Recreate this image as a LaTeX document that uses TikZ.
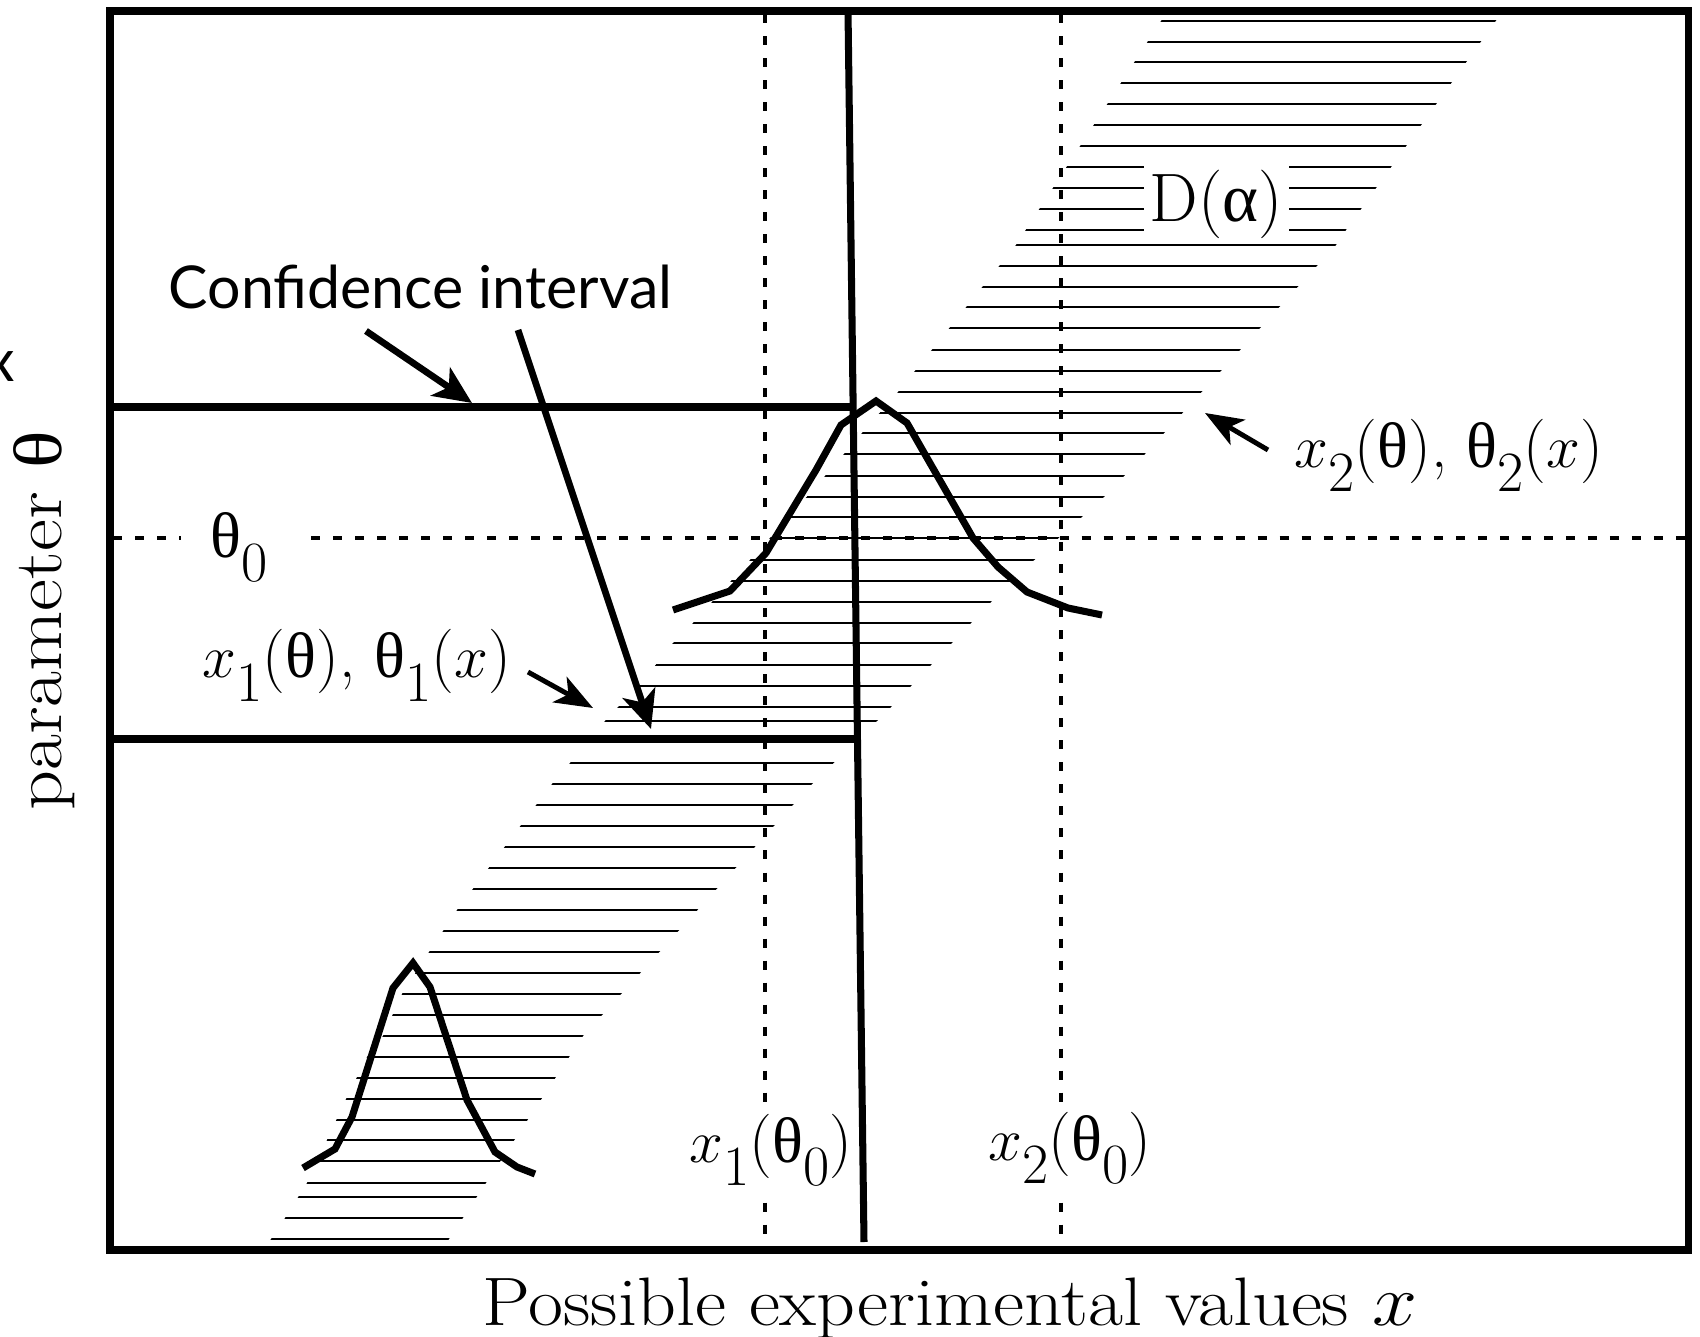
\documentclass[tikz,border=0pt]{standalone}
\usepackage{fontspec}
\usepackage{tikz}
\usetikzlibrary{arrows.meta}
\newfontfamily\grk{Liberation Serif}
\newfontfamily\gill{Lato}
\newcommand{\gtheta}{{\grk θ}}
\newcommand{\galpha}{{\grk α}}
\newcommand{\lowidx}[1]{\raisebox{-0.36em}{\fontsize{16.2}{16.2}\selectfont #1}}

\begin{document}
\begin{tikzpicture}[
    x=0.01cm, y=-0.01cm,
    heavy/.style={line width=2pt},
    guide/.style={line width=1.1pt, dash pattern=on 0.09cm off 0.13cm},
    hatch/.style={line width=0.7pt},
    bell/.style={line width=2pt, line join=miter},
    bigarrow/.style={line width=1.9pt, -{Stealth[length=0.38cm, width=0.34cm, inset=0.1cm]}},
    smallarrow/.style={line width=1.4pt, -{Stealth[length=0.38cm, width=0.29cm, inset=0.1cm]}},
    mathlabel/.style={font=\fontsize{18.3}{18.3}\selectfont, inner sep=0pt},
    boxlabel/.style={mathlabel, fill=white},
    axislabel/.style={font=\fontsize{19.5}{19.5}\selectfont, inner sep=0pt},
    sanslabel/.style={font=\gill\fontsize{16.8}{16.8}\selectfont, inner sep=0pt}
]

\useasboundingbox (0,0) rectangle (1700,1337);

% Schraffiertes Band D(alpha)
\begin{scope}
  \clip (1500,15) -- (1346,230) -- (1336,245) -- (1145,454) -- (1104,497) -- (1011,581)
    -- (891,707) -- (877,721) -- (812,784) -- (583,1036) -- (449,1239) -- (445,1245)
    -- (267,1245) -- (271,1239) -- (285,1218) -- (307,1183) -- (327,1140) -- (346,1099)
    -- (367,1057) -- (383,1036) -- (402,994) -- (429,952) -- (457,910) -- (552,784)
    -- (570,763) -- (605,721) -- (618,707) -- (639,686) -- (673,643) -- (693,623)
    -- (750,560) -- (789,517) -- (825,476) -- (862,433) -- (898,392) -- (1016,245)
    -- (1161,21) -- (1165,15) -- cycle;
  \foreach \hy in {21,42,62,83,104,125,146,167,188,209,230,245,266,287,307,328,350,
      371,392,413,433,454,476,497,517,538,560,581,602,623,643,665,686,707,721,763,784,
      805,826,847,868,889,910,931,952,973,994,1015,1036,1057,1078,1099,1120,1140,1161,
      1183,1197,1218,1239}
    \draw[hatch] (200,\hy) -- (1600,\hy);
\end{scope}

% Hilfslinien
\draw[guide] (765,14) -- (765,1247);
\draw[guide] (1061,14) -- (1061,1247);
\draw[guide] (113,538) -- (1685,538);

% Beschriftungen
\node[boxlabel, inner xsep=0.3cm, inner ysep=0.05cm, anchor=base west] (th0) at (180,558) {\gtheta\lowidx{0}};
\node[boxlabel, inner xsep=0.04cm, inner ysep=0.1cm, anchor=base west] (x1th0) at (685,1162) {$x$\lowidx{1}(\gtheta\lowidx{0})};
\node[boxlabel, inner xsep=0.04cm, inner ysep=0.1cm, anchor=base west] (x2th0) at (984,1160) {$x$\lowidx{2}(\gtheta\lowidx{0})};
\node[boxlabel, font=\fontsize{19.5}{19.5}\selectfont, inner xsep=0.06cm, text height=0.58cm, text depth=0.18cm, anchor=base west] (dalpha) at (1143,222) {D(\galpha)};
\node[mathlabel, anchor=base west] (x1lab) at (202,678) {$x$\lowidx{1}(\gtheta), \gtheta\lowidx{1}($x$)};
\node[mathlabel, anchor=base west] (x2lab) at (1294,468) {$x$\lowidx{2}(\gtheta), \gtheta\lowidx{2}($x$)};
\node[sanslabel, anchor=base west] (conf) at (168,309) {Confidence interval};
\node[sanslabel, anchor=base] (stray) at (0,382) {x};
\node[axislabel, anchor=base] (xaxis) at (950,1325) {\scalebox{1.11}[1]{Possible experimental values $x$}};
\node[axislabel, rotate=90, anchor=base] (yaxis) at (61,621) {\scalebox{1.14}[1]{parameter \gtheta}};

% Rahmen und Intervallgrenzen
\draw[heavy] (110,11) rectangle (1688,1250);
\draw[heavy] (848,11) -- (864,1242);
\draw[heavy] (110,407) -- (853,407);
\draw[heavy] (110,739) -- (859,739);

% Verteilungen
\draw[bell] (673,610) -- (730,591) -- (766,553) -- (816,470) -- (841,425) -- (876,401)
  -- (907,423) -- (973,538) -- (998,567) -- (1027,592) -- (1068,608) -- (1102,615);
\draw[bell] (303,1168) -- (335,1149) -- (352,1117) -- (393,988) -- (413,963) -- (430,987)
  -- (467,1100) -- (495,1152) -- (517,1167) -- (535,1174);

% Pfeile
\coordinate (conf1) at (366,331);
\coordinate (upperhit) at (472,403);
\coordinate (conf2) at (518,330);
\coordinate (lowerhit) at (651,729);
\coordinate (x1from) at (528,672);
\coordinate (x1to) at (593,708);
\coordinate (x2from) at (1268,450);
\coordinate (x2to) at (1205,413);
\draw[bigarrow] (conf1) -- (upperhit);
\draw[bigarrow] (conf2) -- (lowerhit);
\draw[smallarrow] (x1from) -- (x1to);
\draw[smallarrow] (x2from) -- (x2to);

\end{tikzpicture}
\end{document}
